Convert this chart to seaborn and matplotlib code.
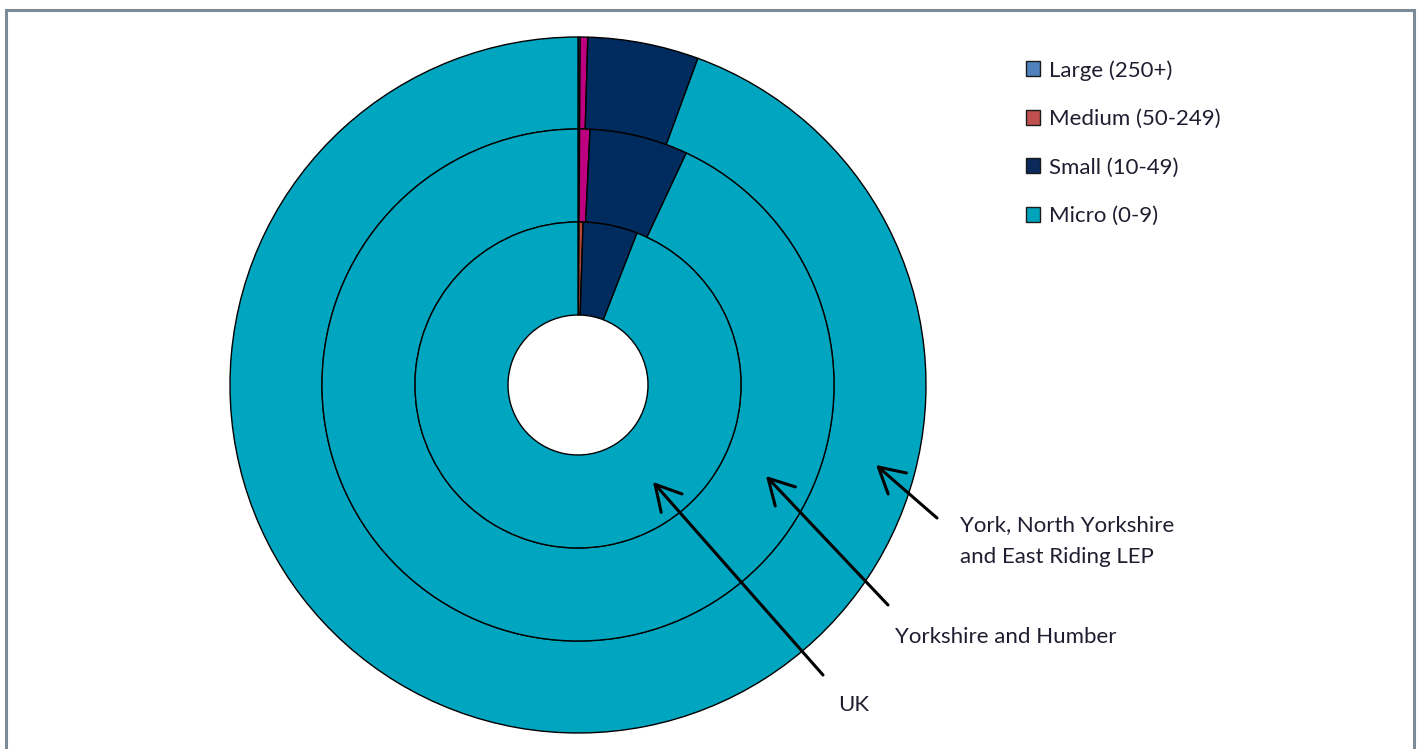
import matplotlib
matplotlib.use("Agg")
import matplotlib.pyplot as plt
from matplotlib.patches import Patch, Rectangle
import seaborn as sns

# ---- data (percent of businesses by size band) ----
size_bands = ["Large (250+)", "Medium (50-249)", "Small (10-49)", "Micro (0-9)"]
uk_share = [0.1, 0.4, 5.4, 94.1]            # inner ring
yorks_humber_share = [0.1, 0.65, 6.2, 93.05]  # middle ring
lep_share = [0.1, 0.35, 5.15, 94.4]          # outer ring
ring_labels = ["UK", "Yorkshire and Humber", "York, North Yorkshire", "and East Riding LEP"]

# ---- style ----
sns.set_theme(style="white")
plt.rcParams["font.family"] = ["Lato", "DejaVu Sans"]

legend_colors = sns.color_palette(["#4F81BD", "#C0504D", "#0B2A5B", "#00A2BC"])
outer_colors = ["#4F81BD", "#BC0080", "#002B5E", "#00A5C0"]
inner_colors = ["#4F81BD", "#B24A35", "#002B5E", "#00A5C0"]
text_color = "#1E1E30"

W, H = 1419, 749
fig = plt.figure(figsize=(W / 100, H / 100), dpi=100)
ax = fig.add_axes([0, 0, 1, 1])

cx, cy = 578, H - 385
edge = dict(edgecolor="black", linewidth=1.0)

ax.pie(lep_share, radius=348, center=(cx, cy), startangle=90, counterclock=False,
       colors=outer_colors, wedgeprops=dict(width=92, **edge))
ax.pie(yorks_humber_share, radius=256, center=(cx, cy), startangle=90, counterclock=False,
       colors=outer_colors, wedgeprops=dict(width=93, **edge))
ax.pie(uk_share, radius=163, center=(cx, cy), startangle=90, counterclock=False,
       colors=inner_colors, wedgeprops=dict(width=93, **edge))

ax.set_xlim(0, W)
ax.set_ylim(0, H)
ax.set_aspect("equal")
ax.axis("off")

# ---- arrows and ring labels ----
arrow_kw = dict(arrowstyle="->,head_length=0.9,head_width=0.5", color="black",
                lw=2.2, mutation_scale=20, shrinkA=0, shrinkB=0)
ax.annotate("", xy=(653, H - 482), xytext=(823, H - 675), arrowprops=arrow_kw)
ax.annotate("", xy=(766, H - 476), xytext=(888, H - 605), arrowprops=arrow_kw)
ax.annotate("", xy=(876, H - 465), xytext=(937, H - 518), arrowprops=arrow_kw)

fs = 16
ax.text(838, H - 705, ring_labels[0], fontsize=fs, color=text_color, va="center", ha="left")
ax.text(895, H - 637, ring_labels[1], fontsize=fs, color=text_color, va="center", ha="left")
ax.text(960, H - 525, ring_labels[2], fontsize=fs, color=text_color, va="center", ha="left")
ax.text(960, H - 557, ring_labels[3], fontsize=fs, color=text_color, va="center", ha="left")

# ---- legend ----
handles = [Patch(facecolor=c, edgecolor="#1a1a1a", linewidth=1.0) for c in legend_colors]
leg = fig.legend(handles, size_bands, loc="upper left",
                 bbox_to_anchor=(1026 / W, 1 - 60 / H), frameon=False,
                 fontsize=fs, handlelength=0.65, handleheight=0.65,
                 handletextpad=0.4, labelspacing=1.28, borderpad=0, borderaxespad=0)
for t in leg.get_texts():
    t.set_color(text_color)

# ---- outer frame ----
fig.patches.append(Rectangle((5.5 / W, -0.05), (1413.5 - 5.5) / W, 1 - 9.5 / H + 0.05,
                             transform=fig.transFigure, fill=False,
                             edgecolor="#7D8B97", linewidth=2.2))

fig.savefig("out.png", dpi=100)
